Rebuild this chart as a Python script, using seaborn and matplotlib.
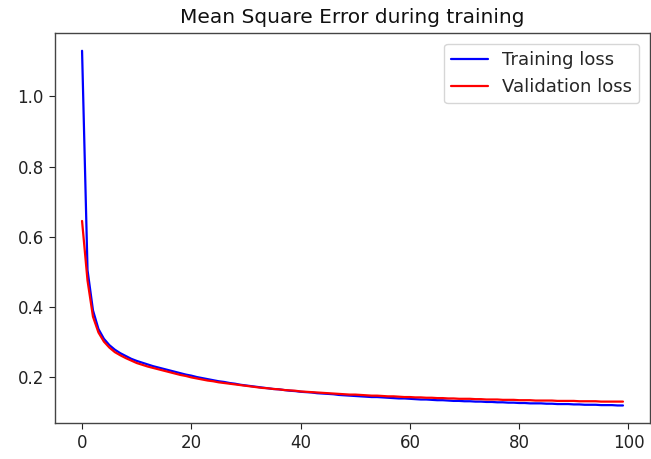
import matplotlib
matplotlib.use("Agg")
import matplotlib.pyplot as plt
import seaborn as sns
import pandas as pd

# Per-epoch mean squared error for the training and validation sets
epochs = list(range(100))

train_loss = [
    1.130, 0.505, 0.390, 0.337, 0.309, 0.291, 0.278, 0.268, 0.260, 0.252,
    0.246, 0.241, 0.236, 0.231, 0.227, 0.223, 0.219, 0.215, 0.211, 0.207,
    0.204, 0.200, 0.197, 0.194, 0.191, 0.188, 0.186, 0.183, 0.181, 0.178,
    0.176, 0.174, 0.172, 0.170, 0.168, 0.166, 0.165, 0.163, 0.161, 0.160,
    0.158, 0.157, 0.156, 0.154, 0.153, 0.152, 0.151, 0.149, 0.148, 0.147,
    0.146, 0.145, 0.144, 0.143, 0.143, 0.142, 0.141, 0.140, 0.139, 0.139,
    0.138, 0.137, 0.136, 0.136, 0.135, 0.134, 0.134, 0.133, 0.132, 0.132,
    0.131, 0.131, 0.130, 0.130, 0.129, 0.129, 0.128, 0.128, 0.127, 0.127,
    0.126, 0.126, 0.125, 0.125, 0.125, 0.124, 0.124, 0.123, 0.123, 0.123,
    0.122, 0.122, 0.121, 0.121, 0.121, 0.120, 0.120, 0.120, 0.119, 0.119,
]

val_loss = [
    0.645, 0.475, 0.372, 0.327, 0.301, 0.284, 0.271, 0.262, 0.254, 0.247,
    0.240, 0.235, 0.230, 0.226, 0.222, 0.218, 0.214, 0.210, 0.206, 0.203,
    0.199, 0.196, 0.193, 0.190, 0.188, 0.185, 0.183, 0.181, 0.179, 0.177,
    0.175, 0.173, 0.171, 0.169, 0.168, 0.166, 0.165, 0.163, 0.162, 0.161,
    0.159, 0.158, 0.157, 0.156, 0.155, 0.154, 0.153, 0.152, 0.151, 0.150,
    0.150, 0.149, 0.148, 0.147, 0.147, 0.146, 0.145, 0.145, 0.144, 0.143,
    0.143, 0.142, 0.142, 0.141, 0.141, 0.140, 0.140, 0.139, 0.139, 0.138,
    0.138, 0.138, 0.137, 0.137, 0.136, 0.136, 0.136, 0.135, 0.135, 0.135,
    0.134, 0.134, 0.134, 0.133, 0.133, 0.133, 0.133, 0.132, 0.132, 0.132,
    0.132, 0.131, 0.131, 0.131, 0.131, 0.130, 0.130, 0.130, 0.130, 0.130,
]

series_names = ["Training loss", "Validation loss"]
series_colors = ["blue", "red"]

sns.set_style("ticks")
plt.rcParams["font.family"] = ["DejaVu Sans"]

df = pd.DataFrame({
    "epoch": epochs * 2,
    "loss": train_loss + val_loss,
    "series": [series_names[0]] * len(epochs) + [series_names[1]] * len(epochs),
})

fig = plt.figure(figsize=(6.51, 4.59), dpi=100)
ax = fig.add_axes([0.0845, 0.078, 0.914, 0.850])

sns.lineplot(data=df, x="epoch", y="loss", hue="series",
             palette=dict(zip(series_names, series_colors)),
             linewidth=1.6, ax=ax)

ax.set_xticks([0, 20, 40, 60, 80, 100])
ax.set_yticks([0.2, 0.4, 0.6, 0.8, 1.0])
ax.set_xlabel("")
ax.set_ylabel("")
ax.tick_params(labelsize=12, colors="#222222", length=4.5)
for s in ax.spines.values():
    s.set_color("#444444")
    s.set_linewidth(1.0)
ax.set_title("Mean Square Error during training", fontsize=14.5,
             color="#111111", pad=7)
ax.legend(loc="upper right", fontsize=13, frameon=True, fancybox=True,
          edgecolor="#cccccc", handlelength=2.0, borderaxespad=0.6)

fig.savefig("out.png", dpi=100)
